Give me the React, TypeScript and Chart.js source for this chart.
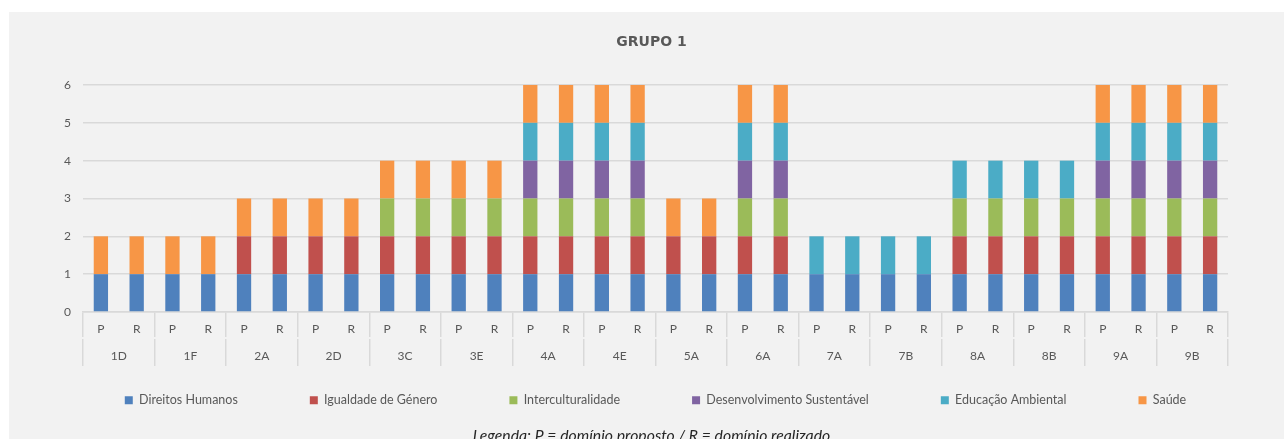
import { useEffect, useRef } from 'react';
import { Chart, registerables } from 'chart.js';

Chart.register(...registerables);

// ---- data ----
const groups = ['1D', '1F', '2A', '2D', '3C', '3E', '4A', '4E', '5A', '6A', '7A', '7B', '8A', '8B', '9A', '9B'];
const subLabels = ['P', 'R'];
const seriesNames = [
  'Direitos Humanos',
  'Igualdade de Género',
  'Interculturalidade',
  'Desenvolvimento Sustentável',
  'Educação Ambiental',
  'Saúde',
];
const direitosHumanos = [1, 1, 1, 1, 1, 1, 1, 1, 1, 1, 1, 1, 1, 1, 1, 1, 1, 1, 1, 1, 1, 1, 1, 1, 1, 1, 1, 1, 1, 1, 1, 1];
const igualdadeGenero = [0, 0, 0, 0, 1, 1, 1, 1, 1, 1, 1, 1, 1, 1, 1, 1, 1, 1, 1, 1, 0, 0, 0, 0, 1, 1, 1, 1, 1, 1, 1, 1];
const interculturalidade = [0, 0, 0, 0, 0, 0, 0, 0, 1, 1, 1, 1, 1, 1, 1, 1, 0, 0, 1, 1, 0, 0, 0, 0, 1, 1, 1, 1, 1, 1, 1, 1];
const desenvolvimento = [0, 0, 0, 0, 0, 0, 0, 0, 0, 0, 0, 0, 1, 1, 1, 1, 0, 0, 1, 1, 0, 0, 0, 0, 0, 0, 0, 0, 1, 1, 1, 1];
const educacaoAmbiental = [0, 0, 0, 0, 0, 0, 0, 0, 0, 0, 0, 0, 1, 1, 1, 1, 0, 0, 1, 1, 1, 1, 1, 1, 1, 1, 1, 1, 1, 1, 1, 1];
const saude = [1, 1, 1, 1, 1, 1, 1, 1, 1, 1, 1, 1, 1, 1, 1, 1, 1, 1, 1, 1, 0, 0, 0, 0, 0, 0, 0, 0, 1, 1, 1, 1];
const seriesValues = [direitosHumanos, igualdadeGenero, interculturalidade, desenvolvimento, educacaoAmbiental, saude];
const yMax = 6;
const titleText = 'GRUPO 1';
const footnoteText = 'Legenda: P = domínio proposto / R = domínio realizado';

// ---- styles ----
const colors = ['#4f81bd', '#c0504d', '#9bbb59', '#8064a2', '#4bacc6', '#f79646'];
const FONT = 'Lato, "Open Sans", sans-serif';
const TEXT = '#595959';
const GRID = '#d9d9d9';

const barLabels = groups.flatMap(() => subLabels);

const legendPlace = {
  id: 'legendPlace',
  beforeLayout(chart: any) {
    const lg = chart.legend;
    if (lg && !lg.__patched) {
      const orig = lg.fit;
      lg.fit = function () {
        orig.call(this);
        this.height = 73;
      };
      lg.__patched = true;
    }
  },
  afterLayout(chart: any) {
    const lg = chart.legend;
    if (lg) {
      lg.top -= 44;
      lg.left += 9;
      lg.right += 9;
    }
    const tb = chart.titleBlock;
    if (tb) {
      tb.left += 5;
      tb.right += 5;
    }
  },
};

const footnote = {
  id: 'footnote',
  afterDraw(chart: any) {
    const ctx = chart.ctx;
    ctx.save();
    ctx.font = `italic 15.8px ${FONT}`;
    ctx.fillStyle = '#262626';
    ctx.textAlign = 'center';
    ctx.textBaseline = 'alphabetic';
    ctx.fillText(footnoteText, chart.width / 2 + 5, chart.height + 2.4);
    ctx.restore();
  },
};

export default function App() {
  const ref = useRef<HTMLCanvasElement | null>(null);
  useEffect(() => {
    if (!ref.current) return;
    const chart = new Chart(ref.current, {
      type: 'bar',
      data: {
        labels: barLabels,
        datasets: seriesNames.map((name, i) => ({
          label: name,
          data: seriesValues[i],
          backgroundColor: colors[i],
          borderWidth: 0,
          barPercentage: 0.4,
          categoryPercentage: 1,
        })),
      },
      options: {
        responsive: false,
        animation: false,
        layout: { padding: 0 },
        plugins: {
          title: {
            display: true,
            text: titleText,
            color: TEXT,
            font: { family: '"DejaVu Sans", sans-serif', size: 14, weight: 'bold' },
            padding: { top: 21.6, bottom: 34.6 },
          },
          legend: {
            position: 'bottom',
            labels: {
              boxWidth: 8,
              boxHeight: 8,
              padding: 72,
              color: TEXT,
              font: { family: FONT, size: 12.5 },
            },
          },
          tooltip: { enabled: false },
        },
        scales: {
          x: {
            type: 'category',
            stacked: true,
            offset: true,
            weight: 0,
            grid: {
              display: true,
              offset: true,
              drawOnChartArea: false,
              drawTicks: true,
              tickLength: 25,
              lineWidth: 1.5,
              color: (c: any) => (c.index === undefined || c.index % 2 === 0 ? GRID : 'rgba(0,0,0,0)'),
            },
            border: { display: true, color: GRID, width: 1.5 },
            ticks: {
              padding: -15,
              color: TEXT,
              font: { family: FONT, size: 12 },
              autoSkip: false,
              maxRotation: 0,
            },
            afterFit: (s: any) => {
              s.height = 27;
            },
          },
          x2: {
            type: 'category',
            position: 'bottom',
            labels: groups,
            offset: true,
            weight: 1,
            grid: {
              display: true,
              offset: true,
              drawOnChartArea: false,
              drawTicks: true,
              tickLength: 27,
              lineWidth: 1.5,
              color: GRID,
            },
            border: { display: false },
            ticks: {
              padding: -17,
              color: TEXT,
              font: { family: FONT, size: 12 },
              autoSkip: false,
              maxRotation: 0,
            },
            afterFit: (s: any) => {
              s.height = 27;
            },
          },
          y: {
            stacked: true,
            min: 0,
            max: yMax,
            ticks: {
              stepSize: 1,
              padding: 12,
              color: TEXT,
              font: { family: FONT, size: 12 },
            },
            grid: { color: GRID, lineWidth: 1.5, drawTicks: false },
            border: { display: false },
            afterFit: (s: any) => {
              s.width = 74;
            },
          },
          yR: {
            type: 'linear',
            position: 'right',
            display: true,
            grid: { display: false, drawTicks: false },
            ticks: { display: false },
            border: { display: false },
            afterFit: (s: any) => {
              s.width = 56;
            },
          },
        },
      },
      plugins: [legendPlace, footnote],
    } as any);
    return () => chart.destroy();
  }, []);

  return (
    <div
      style={{
        position: 'fixed',
        left: 9,
        top: 12,
        width: 1275,
        height: 427,
        background: '#f2f2f2',
      }}
    >
      <canvas ref={ref} width={1275} height={427} style={{ display: 'block' }} />
    </div>
  );
}
